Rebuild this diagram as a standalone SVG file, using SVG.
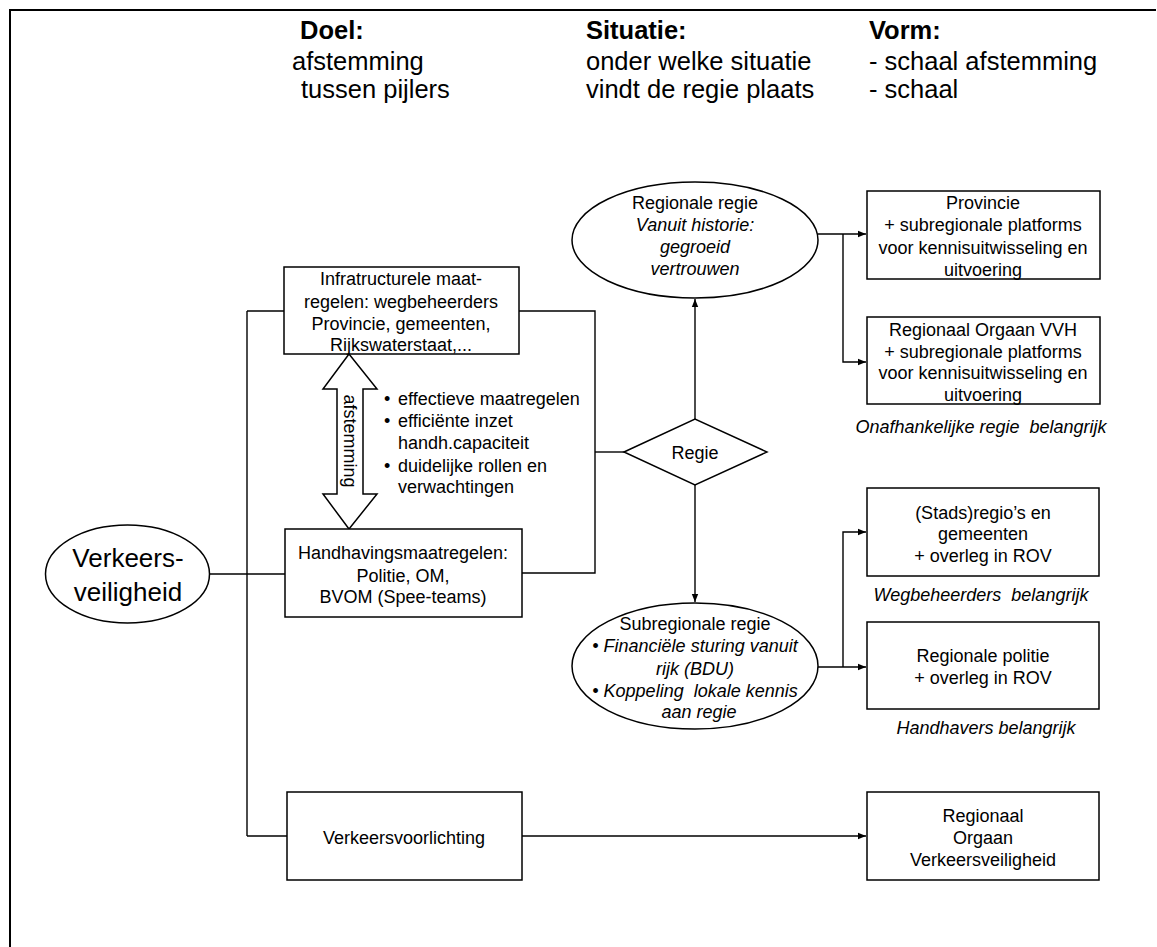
<svg xmlns="http://www.w3.org/2000/svg" width="1157" height="947" viewBox="0 0 1157 947">
<style>
  text { font-family: "Liberation Sans", Arial, sans-serif; font-size: 18px; fill: #000; }
  .c { text-anchor: middle; }
  .i { font-style: italic; }
  .h { font-size: 25.5px; }
  .hb { font-size: 25.5px; font-weight: bold; }
  .big { font-size: 26px; }
  .shape { fill: #fff; stroke: #000; stroke-width: 1.5; }
  .line { fill: none; stroke: #000; stroke-width: 1.4; }
  .frame { fill: none; stroke: #000; stroke-width: 2; }
</style>
<defs>
  <marker id="arrS" viewBox="0 0 10 10" refX="10" refY="5" markerWidth="8" markerHeight="8" markerUnits="userSpaceOnUse" orient="auto">
    <path d="M0,1 L10,5 L0,9 Z" fill="#000"/>
  </marker>
</defs>
<rect width="1157" height="947" fill="#fff"/>
<path class="frame" d="M10 947 V10 H1156"/>

<g id="header">
  <text class="hb" x="300" y="39">Doel:</text>
  <text class="h" x="292" y="70">afstemming</text>
  <text class="h" x="301" y="98">tussen pijlers</text>
  <text class="hb" x="586" y="39">Situatie:</text>
  <text class="h" x="586" y="70">onder welke situatie</text>
  <text class="h" x="586" y="98">vindt de regie plaats</text>
  <text class="hb" x="869" y="39">Vorm:</text>
  <text class="h" x="869" y="70">- schaal afstemming</text>
  <text class="h" x="869" y="98">- schaal</text>
</g>

<g id="connectors">
  <path class="line" d="M209 574 H285"/>
  <path class="line" d="M247 311 V836"/>
  <path class="line" d="M247 311 H284"/>
  <path class="line" d="M247 836 H287"/>
  <path class="line" d="M519 311 H595 V573 H522"/>
  <path class="line" d="M595 452 H624"/>
  <path class="line" d="M695 419 V299" marker-end="url(#arrS)"/>
  <path class="line" d="M695 485 V602" marker-end="url(#arrS)"/>
  <path class="line" d="M818 234 H866" marker-end="url(#arrS)"/>
  <path class="line" d="M843 234 V362 H866" marker-end="url(#arrS)"/>
  <path class="line" d="M818 667 H866" marker-end="url(#arrS)"/>
  <path class="line" d="M843 667 V532 H866" marker-end="url(#arrS)"/>
  <path class="line" d="M522 836 H866" marker-end="url(#arrS)"/>
</g>

<g id="verkeersveiligheid">
  <ellipse class="shape" cx="127.5" cy="574" rx="82" ry="49"/>
  <text class="c big" x="128" y="567">Verkeers-</text>
  <text class="c big" x="128" y="601">veiligheid</text>
</g>

<g id="infra">
  <rect class="shape" x="284" y="267" width="235" height="87"/>
  <text class="c" x="401" y="285">Infratructurele maat-</text>
  <text class="c" x="401" y="308">regelen: wegbeheerders</text>
  <text class="c" x="401" y="330">Provincie, gemeenten,</text>
  <text class="c" x="401" y="351">Rijkswaterstaat,...</text>
</g>

<g id="afstemming-arrow">
  <polygon class="shape" points="349,354 377,389 363,389 363,494 377,494 349,529 323,494 337,494 337,389 323,389"/>
  <text class="c" transform="translate(344,441) rotate(90)">afstemming</text>
</g>

<g id="bullets">
  <text x="384" y="405">•</text><text x="398" y="405">effectieve maatregelen</text>
  <text x="384" y="427">•</text><text x="398" y="427">efficiënte inzet</text>
  <text x="398" y="449">handh.capaciteit</text>
  <text x="384" y="472">•</text><text x="398" y="472">duidelijke rollen en</text>
  <text x="398" y="493">verwachtingen</text>
</g>

<g id="handhaving">
  <rect class="shape" x="285" y="529" width="237" height="88"/>
  <text class="c" x="403" y="559">Handhavingsmaatregelen:</text>
  <text class="c" x="403" y="582">Politie, OM,</text>
  <text class="c" x="403" y="603">BVOM (Spee-teams)</text>
</g>

<g id="regie">
  <polygon class="shape" points="624,452 695,419 767,452 695,485"/>
  <text class="c" x="695" y="459">Regie</text>
</g>

<g id="regionale-regie">
  <ellipse class="shape" cx="695" cy="240" rx="123" ry="58"/>
  <text class="c" x="695" y="209">Regionale regie</text>
  <text class="c i" x="695" y="231">Vanuit historie:</text>
  <text class="c i" x="695" y="253">gegroeid</text>
  <text class="c i" x="695" y="275">vertrouwen</text>
</g>

<g id="subregionale-regie">
  <ellipse class="shape" cx="695" cy="666" rx="123" ry="63"/>
  <text class="c" x="695" y="630">Subregionale regie</text>
  <text class="c i" x="695" y="652">• Financiële sturing vanuit</text>
  <text class="c i" x="695" y="675">rijk (BDU)</text>
  <text class="c i" x="695" y="697" xml:space="preserve">• Koppeling  lokale kennis</text>
  <text class="c i" x="699" y="718">aan regie</text>
</g>

<g id="provincie">
  <rect class="shape" x="867" y="191" width="233" height="88"/>
  <text class="c" x="983" y="209">Provincie</text>
  <text class="c" x="983" y="231">+ subregionale platforms</text>
  <text class="c" x="983" y="254">voor kennisuitwisseling en</text>
  <text class="c" x="983" y="276">uitvoering</text>
</g>

<g id="orgaan-vvh">
  <rect class="shape" x="867" y="317" width="233" height="87"/>
  <text class="c" x="983" y="336">Regionaal Orgaan VVH</text>
  <text class="c" x="983" y="358">+ subregionale platforms</text>
  <text class="c" x="983" y="379">voor kennisuitwisseling en</text>
  <text class="c" x="983" y="401">uitvoering</text>
</g>
<text class="c i" x="981" y="433" xml:space="preserve">Onafhankelijke regie  belangrijk</text>

<g id="stadsregio">
  <rect class="shape" x="867" y="488" width="232" height="88"/>
  <text class="c" x="983" y="519">(Stads)regio’s en</text>
  <text class="c" x="983" y="540">gemeenten</text>
  <text class="c" x="983" y="562">+ overleg in ROV</text>
</g>
<text class="c i" x="981" y="601" xml:space="preserve">Wegbeheerders  belangrijk</text>

<g id="regionale-politie">
  <rect class="shape" x="867" y="622" width="232" height="87"/>
  <text class="c" x="983" y="662">Regionale politie</text>
  <text class="c" x="983" y="684">+ overleg in ROV</text>
</g>
<text class="c i" x="986" y="734">Handhavers belangrijk</text>

<g id="verkeersvoorlichting">
  <rect class="shape" x="287" y="792" width="235" height="88"/>
  <text class="c" x="404" y="844">Verkeersvoorlichting</text>
</g>

<g id="orgaan-vv">
  <rect class="shape" x="867" y="792" width="232" height="88"/>
  <text class="c" x="983" y="822">Regionaal</text>
  <text class="c" x="983" y="844">Orgaan</text>
  <text class="c" x="983" y="866">Verkeersveiligheid</text>
</g>
</svg>
